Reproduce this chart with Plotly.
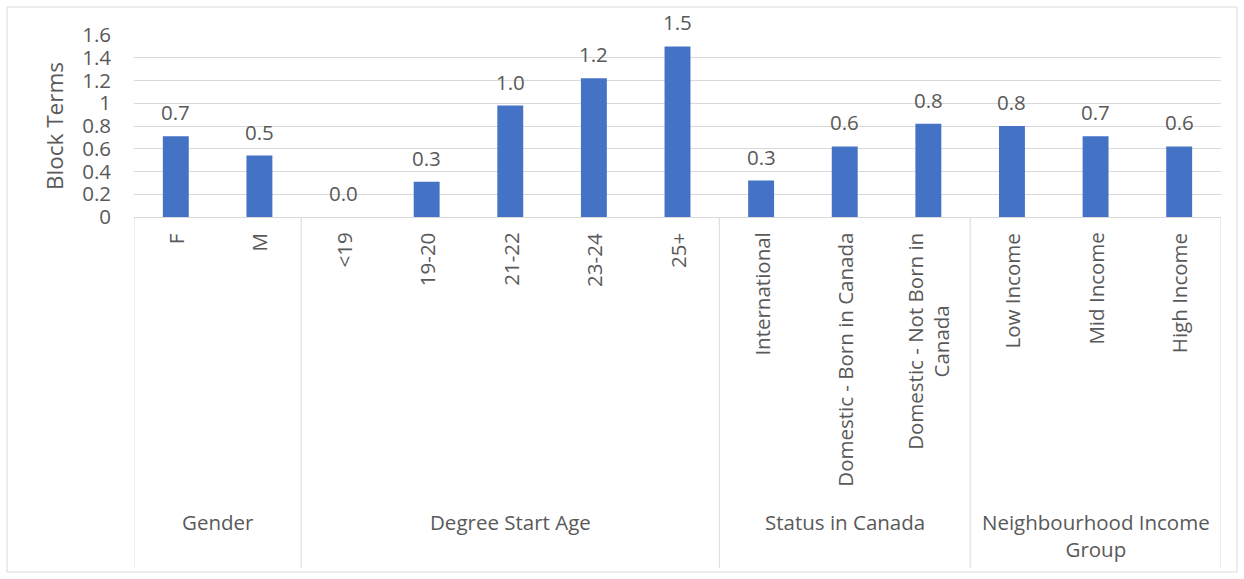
import plotly.graph_objects as go

# ---- data -------------------------------------------------------------
categories = [
    "F", "M",
    "<19", "19-20", "21-22", "23-24", "25+",
    "International", "Domestic - Born in Canada", "Domestic - Not Born in Canada",
    "Low Income", "Mid Income", "High Income",
]
tick_labels = [
    "F", "M",
    "<19", "19-20", "21-22", "23-24", "25+",
    "International", "Domestic - Born in Canada", "Domestic - Not Born in<br>Canada",
    "Low Income", "Mid Income", "High Income",
]
block_terms = [0.71, 0.54, 0.0, 0.31, 0.98, 1.22, 1.50, 0.32, 0.62, 0.82, 0.80, 0.71, 0.62]

group_names = ["Gender", "Degree Start Age", "Status in Canada", "Neighbourhood Income<br>Group"]
group_sizes = [2, 5, 3, 3]

y_title = "Block Terms"

# ---- styling ----------------------------------------------------------
W, H = 1244, 579
PLOT_L, PLOT_R, PLOT_T, PLOT_B = 134, 1221, 35, 217
FONT = "Open Sans"
TXT = "#595959"
GRID = "#D9D9D9"
BAR = "#4472C4"
FS = 20.5


def py(pix):
    """pixel row -> paper y"""
    return (PLOT_B - pix) / (PLOT_B - PLOT_T)


def px(pix):
    """pixel column -> paper x"""
    return (pix - PLOT_L) / (PLOT_R - PLOT_L)


fig = go.Figure()
fig.add_trace(go.Bar(
    x=categories, y=block_terms,
    marker=dict(color=BAR, line=dict(width=0)),
    hoverinfo="x+y",
))

annotations = []
# value labels above the bars
for i, v in enumerate(block_terms):
    annotations.append(dict(
        x=i, y=v, xref="x", yref="y", text=f"{v:.1f}", showarrow=False,
        xanchor="center", yanchor="middle", yshift=24,
        font=dict(family=FONT, size=FS, color=TXT),
    ))

# rotated category labels
for i, lab in enumerate(tick_labels):
    annotations.append(dict(
        x=i, y=py(231), xref="x", yref="paper", text=lab, showarrow=False,
        textangle=-90, xanchor="center", yanchor="top", align="center",
        font=dict(family=FONT, size=FS, color=TXT),
    ))

# group labels and separators
shapes = []
start = 0
bounds = [-0.5]
for name, size in zip(group_names, group_sizes):
    centre = start + (size - 1) / 2
    annotations.append(dict(
        x=centre, y=py(506), xref="x", yref="paper", text=name, showarrow=False,
        xanchor="center", yanchor="top", align="center",
        font=dict(family=FONT, size=FS, color=TXT),
    ))
    start += size
    bounds.append(start - 0.5)

for b in bounds:
    shapes.append(dict(
        type="line", xref="x", yref="paper", x0=b, x1=b, y0=py(PLOT_B), y1=py(568),
        line=dict(color=GRID, width=1),
    ))

# chart-area border
shapes.append(dict(
    type="rect", xref="paper", yref="paper",
    x0=px(7), x1=px(1237), y0=py(7), y1=py(572),
    line=dict(color=GRID, width=1), fillcolor="rgba(0,0,0,0)", layer="below",
))

fig.update_layout(
    width=W, height=H,
    margin=dict(l=PLOT_L, r=W - PLOT_R, t=PLOT_T, b=H - PLOT_B, pad=0),
    paper_bgcolor="white", plot_bgcolor="white",
    bargap=0.69,
    showlegend=False,
    annotations=annotations,
    shapes=shapes,
    font=dict(family=FONT, size=FS, color=TXT),
    xaxis=dict(
        type="category", range=[-0.5, len(categories) - 0.5],
        showticklabels=False, ticks="", showgrid=False, zeroline=False,
        showline=True, linecolor=GRID, linewidth=1,
    ),
    yaxis=dict(
        range=[0, 1.6], dtick=0.2, tick0=0,
        showgrid=True, gridcolor=GRID, gridwidth=1,
        zeroline=False, showline=False, ticks="",
        ticklabelstandoff=22,
        tickfont=dict(family=FONT, size=FS, color=TXT),
        title=dict(text=y_title, standoff=12,
                   font=dict(family=FONT, size=22.5, color=TXT)),
        automargin=False,
    ),
)

fig.write_html("out.html")
